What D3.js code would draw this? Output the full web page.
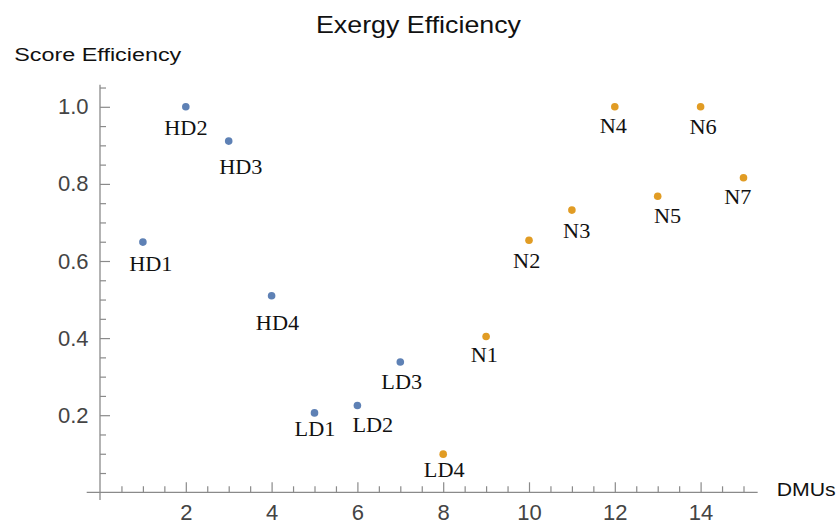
<!DOCTYPE html>
<html>
<head>
<meta charset="utf-8">
<script src="https://cdn.jsdelivr.net/npm/d3@7"></script>
<style>
  html, body { margin: 0; padding: 0; background: #fff; }
  svg { display: block; }
</style>
</head>
<body>
<svg id="chart" width="839" height="526"></svg>
<script>
// DMU scores, split into the two plotted series
const blueLabels = ["HD1", "HD2", "HD3", "HD4", "LD1", "LD2", "LD3"];
const blueDMU = [1, 2, 3, 4, 5, 6, 7];
const blueScore = [0.649, 1.0, 0.911, 0.510, 0.206, 0.225, 0.338];

const orangeLabels = ["LD4", "N1", "N2", "N3", "N4", "N5", "N6", "N7"];
const orangeDMU = [8, 9, 10, 11, 12, 13, 14, 15];
const orangeScore = [0.099, 0.404, 0.654, 0.732, 1.0, 0.768, 1.0, 0.816];

const xMajorTicks = [2, 4, 6, 8, 10, 12, 14];
const yMajorTicks = [0.2, 0.4, 0.6, 0.8, 1.0];

// label placement nudges (px) relative to each point: [dx, baseline dy]
const labelNudge = {
  HD1: [7.9, 28.9], HD2: [0.1, 28.2], HD3: [12.1, 33.2], HD4: [5.9, 34.3],
  LD1: [0.5, 23.1], LD2: [15.4, 26.1], LD3: [1.4, 27.3], LD4: [1.0, 22.6],
  N1: [-1.8, 25.1], N2: [-2.3, 28.1], N3: [4.8, 28.2], N4: [-1.5, 25.9],
  N5: [9.8, 26.5], N6: [2.4, 27.5], N7: [-5.7, 26.3]
};

const BLUE = "#5E81B5";
const ORANGE = "#E19C24";
const AXIS = "#8a8a8a";
const SANS = "'Liberation Sans', Arial, sans-serif";
const SERIF = "'Liberation Serif', 'Times New Roman', serif";

const svg = d3.select("#chart");

const x = d3.scaleLinear().domain([0, 15]).range([100, 743.5]);
const y = d3.scaleLinear().domain([0, 1]).range([492.3, 106.8]);

const x0 = x(0), y0 = y(0);

// minor tick values
const xMinor = d3.range(1, 31).map(i => i * 0.5).filter(v => !xMajorTicks.includes(v));
const yMinor = d3.range(1, 22).map(i => +(i * 0.05).toFixed(2))
  .filter(v => !yMajorTicks.some(m => Math.abs(m - v) < 1e-9));

// ---- x axis ----
const gx = svg.append("g").attr("transform", `translate(0,${y0})`);
gx.append("line")
  .attr("x1", x(-0.31)).attr("x2", x(15.33))
  .attr("stroke", AXIS).attr("stroke-width", 1.3);
const gxMinor = gx.append("g").call(
  d3.axisBottom(x).tickValues(xMinor).tickSize(-6).tickFormat("")
);
const gxMajor = gx.append("g").call(
  d3.axisBottom(x).tickValues(xMajorTicks).tickSize(-10).tickPadding(12.4).tickFormat(d3.format("d"))
);
[gxMinor, gxMajor].forEach(g => {
  g.select(".domain").remove();
  g.selectAll(".tick line").attr("stroke", AXIS).attr("stroke-width", 1.2);
});
gxMajor.selectAll(".tick text")
  .attr("fill", "#444").attr("font-family", SANS).attr("font-size", 22);

// ---- y axis ----
const gy = svg.append("g").attr("transform", `translate(${x0},0)`);
gy.append("line")
  .attr("y1", y(1.057)).attr("y2", y(-0.02))
  .attr("stroke", AXIS).attr("stroke-width", 1.3);
const gyMinor = gy.append("g").call(
  d3.axisLeft(y).tickValues(yMinor).tickSize(-6).tickFormat("")
);
const gyMajor = gy.append("g").call(
  d3.axisLeft(y).tickValues(yMajorTicks).tickSize(-10).tickPadding(11.5).tickFormat(d3.format(".1f"))
);
[gyMinor, gyMajor].forEach(g => {
  g.select(".domain").remove();
  g.selectAll(".tick line").attr("stroke", AXIS).attr("stroke-width", 1.2);
});
gyMajor.selectAll(".tick text")
  .attr("fill", "#444").attr("font-family", SANS).attr("font-size", 22);

// ---- titles ----
function stretch(sel, factor) {
  sel.each(function () {
    const w = this.getComputedTextLength();
    d3.select(this).attr("textLength", w * factor).attr("lengthAdjust", "spacingAndGlyphs");
  });
}

svg.append("text")
  .attr("x", 418.5).attr("y", 33.3)
  .attr("text-anchor", "middle")
  .attr("font-family", SANS).attr("font-size", 24).attr("fill", "#111")
  .text("Exergy Efficiency")
  .attr("textLength", 205).attr("lengthAdjust", "spacingAndGlyphs");

svg.append("text")
  .attr("x", 14.3).attr("y", 60.7)
  .attr("font-family", SANS).attr("font-size", 17.5).attr("fill", "#111")
  .text("Score Efficiency")
  .attr("textLength", 167).attr("lengthAdjust", "spacingAndGlyphs");

svg.append("text")
  .attr("x", 776.7).attr("y", 495.7)
  .attr("font-family", SANS).attr("font-size", 18.5).attr("fill", "#111")
  .text("DMUs")
  .attr("textLength", 59).attr("lengthAdjust", "spacingAndGlyphs");

// ---- points and labels ----
const series = [
  { color: BLUE, rows: blueLabels.map((l, i) => ({ label: l, dmu: blueDMU[i], score: blueScore[i] })) },
  { color: ORANGE, rows: orangeLabels.map((l, i) => ({ label: l, dmu: orangeDMU[i], score: orangeScore[i] })) }
];

series.forEach(s => {
  svg.append("g").selectAll("circle")
    .data(s.rows).join("circle")
    .attr("cx", d => x(d.dmu))
    .attr("cy", d => y(d.score))
    .attr("r", 3.8)
    .attr("fill", s.color);
});

series.forEach(s => {
  const labels = svg.append("g").selectAll("text")
    .data(s.rows).join("text")
    .attr("x", d => x(d.dmu) + labelNudge[d.label][0])
    .attr("y", d => y(d.score) + labelNudge[d.label][1])
    .attr("text-anchor", "middle")
    .attr("font-family", SERIF).attr("font-size", 21).attr("fill", "#111")
    .text(d => d.label);
  stretch(labels, 1.06);
});
</script>
</body>
</html>
